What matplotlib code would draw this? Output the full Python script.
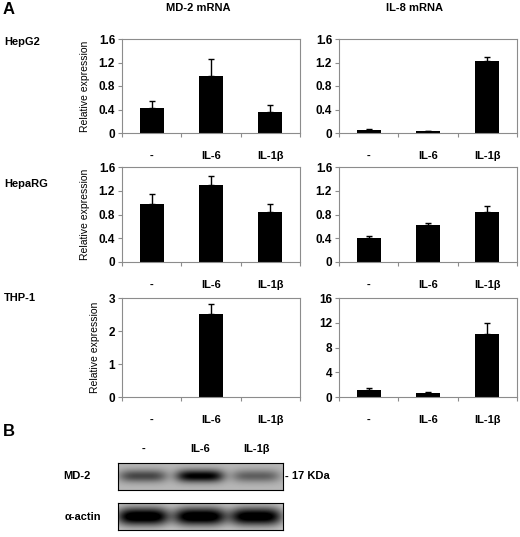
import numpy as np
import matplotlib.pyplot as plt

plt.rcParams['font.family'] = ['Liberation Sans', 'DejaVu Sans']

W, H = 520, 537

groups = ['-', 'IL-6', 'IL-1β']
cells = ['HepG2', 'HepaRG', 'THP-1']
genes = ['MD-2 mRNA', 'IL-8 mRNA']

# relative expression, mean and upper error
hepg2_md2 = [0.43, 0.97, 0.35]
hepg2_md2_err = [0.12, 0.29, 0.13]
hepg2_il8 = [0.05, 0.04, 1.23]
hepg2_il8_err = [0.01, 0.0, 0.06]
heparg_md2 = [0.97, 1.30, 0.85]
heparg_md2_err = [0.18, 0.15, 0.12]
heparg_il8 = [0.40, 0.62, 0.84]
heparg_il8_err = [0.03, 0.04, 0.11]
thp1_md2 = [0.0, 2.52, 0.0]
thp1_md2_err = [0.0, 0.29, 0.0]
thp1_il8 = [1.1, 0.6, 10.2]
thp1_il8_err = [0.3, 0.25, 1.8]

ylims = [1.6, 1.6, 1.6, 1.6, 3, 16]
yticks = [[0, 0.4, 0.8, 1.2, 1.6], [0, 0.4, 0.8, 1.2, 1.6],
          [0, 0.4, 0.8, 1.2, 1.6], [0, 0.4, 0.8, 1.2, 1.6],
          [0, 1, 2, 3], [0, 4, 8, 12, 16]]
yticklabels = [['0', '0.4', '0.8', '1.2', '1.6'], ['0', '0.4', '0.8', '1.2', '1.6'],
               ['0', '0.4', '0.8', '1.2', '1.6'], ['0', '0.4', '0.8', '1.2', '1.6'],
               ['0', '1', '2', '3'], ['0', '4', '8', '12', '16']]

# western blot band darkness per lane
md2_band = [0.45, 0.75, 0.35]
actin_band = [0.95, 0.95, 0.92]

means = [hepg2_md2, hepg2_il8, heparg_md2, heparg_il8, thp1_md2, thp1_il8]
errs = [hepg2_md2_err, hepg2_il8_err, heparg_md2_err, heparg_il8_err, thp1_md2_err, thp1_il8_err]


def px_axes(fig, x0, y0, x1, y1):
    return fig.add_axes([x0 / W, 1 - y1 / H, (x1 - x0) / W, (y1 - y0) / H])


fig = plt.figure(figsize=(W / 100, H / 100), dpi=100)

col_x = [(122, 300), (339, 517)]
row_y = [(39, 133), (167, 262), (298, 397)]
label_y = [42, 184, 298]

gray = '#8c8c8c'
x = np.arange(3)
for i in range(6):
    r, c = i // 2, i % 2
    ax = px_axes(fig, col_x[c][0], row_y[r][0], col_x[c][1], row_y[r][1])
    m = np.array(means[i])
    e = np.array(errs[i])
    ax.bar(x, m, width=0.4, color='black', zorder=2)
    keep = m > 0
    ax.errorbar(x[keep], m[keep], yerr=[np.zeros(keep.sum()), e[keep]], fmt='none',
                ecolor='black', elinewidth=1, capsize=2.5, capthick=1, zorder=3)
    ax.set_xlim(-0.5, 2.5)
    ax.set_ylim(0, ylims[i])
    ax.set_yticks(yticks[i])
    ax.set_yticklabels(yticklabels[i], fontsize=8.5, fontweight='bold')
    ax.set_xticks([-0.5, 0.5, 1.5, 2.5])
    ax.set_xticklabels([])
    ax.set_xticks(x, minor=True)
    ax.set_xticklabels(groups, minor=True, fontsize=8, fontweight='bold')
    ax.tick_params(axis='x', which='minor', length=0, pad=13)
    ax.tick_params(axis='x', which='major', length=3, width=0.8, color=gray, direction='out')
    ax.tick_params(axis='y', length=3, width=0.8, color=gray, direction='out', pad=2)
    for s in ax.spines.values():
        s.set_color(gray)
        s.set_linewidth(0.8)
    if c == 0:
        ax.set_ylabel('Relative expression', fontsize=7.5, labelpad=6)
        fig.text(4 / W, 1 - label_y[r] / H, cells[r], fontsize=8,
                 fontweight='bold', va='center', ha='left')

fig.text(3 / W, 1 - 9 / H, 'A', fontsize=12, fontweight='bold', va='center')
fig.text(198 / W, 1 - 8 / H, genes[0], fontsize=8, fontweight='bold', ha='center', va='center')
fig.text(415 / W, 1 - 8 / H, genes[1], fontsize=8, fontweight='bold', ha='center', va='center')

# panel B: western blot
fig.text(3 / W, 1 - 432 / H, 'B', fontsize=12, fontweight='bold', va='center')
lane_x = [143, 200, 256]
for lx, g in zip(lane_x, groups):
    fig.text(lx / W, 1 - 449 / H, g, fontsize=8, fontweight='bold', ha='center', va='center')

bx0, bx1 = 118, 283
xx = np.arange(bx0, bx1) + 0.5


def blot(ax, dark, y0, y1, hw, hh, bg):
    yy = np.arange(y0, y1) + 0.5
    X, Y = np.meshgrid(xx, yy)
    img = np.full(X.shape, bg)
    yc = (y0 + y1) / 2
    for lx, d in zip(lane_x, dark):
        img += d * np.exp(-((X - lx) / hw) ** 4) * np.exp(-((Y - yc) / hh) ** 2)
    img = np.clip(img, 0, 1)
    ax.imshow(1 - img, cmap='gray', vmin=0, vmax=1, aspect='auto',
              interpolation='bilinear')
    ax.set_xticks([])
    ax.set_yticks([])
    for s in ax.spines.values():
        s.set_linewidth(0.8)


ax_md2 = px_axes(fig, bx0, 463, bx1, 490)
blot(ax_md2, md2_band, 463, 490, 24, 6, 0.28)
ax_act = px_axes(fig, bx0, 503, bx1, 530)
blot(ax_act, actin_band, 503, 530, 26, 9, 0.2)

fig.text(77 / W, 1 - 476 / H, 'MD-2', fontsize=8, fontweight='bold', ha='center', va='center')
fig.text(83 / W, 1 - 517 / H, 'α-actin', fontsize=8, fontweight='bold', ha='center', va='center')
fig.text(285 / W, 1 - 476 / H, '- 17 KDa', fontsize=8, fontweight='bold', ha='left', va='center')

fig.savefig('out.png', dpi=100)
